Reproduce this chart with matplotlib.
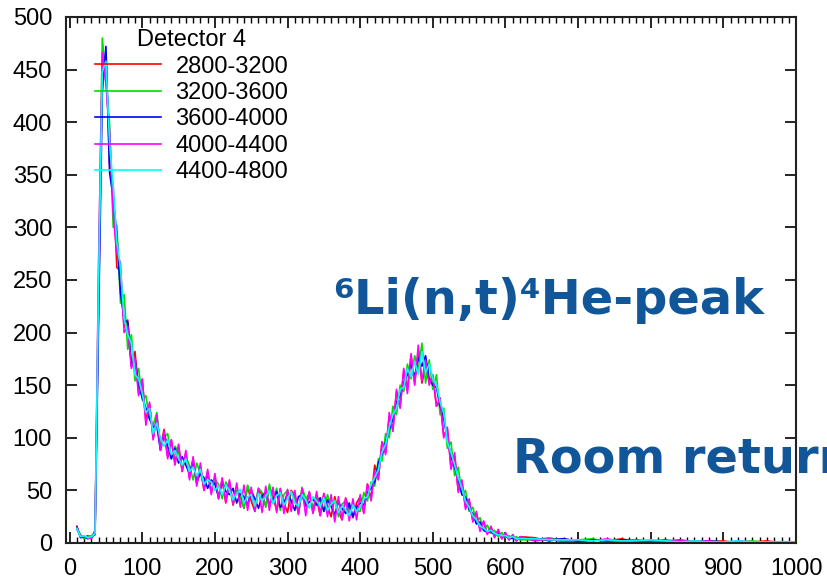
import numpy as np
import matplotlib
matplotlib.use('Agg')
from matplotlib import pyplot as plt
from matplotlib.ticker import MultipleLocator

# channel bins: every 5 up to 620, then every 20 in the flat tail
channels = list(range(10, 625, 5)) + list(range(640, 1001, 20))

labels = ['2800-3200', '3200-3600', '3600-4000', '4000-4400', '4400-4800']
colors = ['#ff0000', '#00dd00', '#0000ff', '#ff00ff', '#00ffff']

counts_2800 = [
    16, 6, 5, 7, 5, 12,
    235, 452, 465, 360, 338, 262, 258, 205, 212, 170, 182, 142,
    155, 116, 132, 100, 120, 90, 108, 82, 98, 76, 92, 68,
    86, 62, 80, 56, 72, 50, 66, 48, 62, 42, 60, 38,
    58, 36, 50, 44, 33, 54, 40, 30, 51, 46, 35, 53,
    44, 31, 51, 38, 29, 50, 45, 28, 50, 36, 48, 29,
    42, 26, 47, 35, 25, 44, 30, 22, 42, 34, 24, 38,
    44, 29, 56, 42, 74, 62, 96, 86, 120, 108, 144, 130,
    164, 146, 178, 152, 182, 152, 168, 154, 158, 130, 134, 102,
    108, 72, 82, 50, 58, 34, 40, 22, 28, 13, 20, 9,
    15, 6, 12, 4, 9, 3, 7, 2, 6,
    5, 2, 4, 1, 3, 2, 4, 1, 2, 3, 1, 2, 1, 2, 0, 1, 2, 0, 1]

counts_3200 = [
    14, 8, 4, 6, 7, 9,
    262, 480, 440, 398, 300, 302, 228, 236, 184, 198, 154, 166,
    136, 140, 118, 112, 124, 92, 100, 104, 80, 92, 86, 70,
    82, 74, 60, 76, 66, 54, 68, 50, 60, 56, 42, 58,
    52, 38, 50, 46, 33, 55, 44, 36, 52, 48, 34, 56,
    40, 52, 31, 46, 50, 38, 44, 29, 53, 42, 47, 33,
    45, 39, 30, 46, 34, 41, 25, 37, 40, 28, 35, 31,
    30, 48, 40, 58, 54, 80, 78, 104, 100, 130, 122, 150,
    144, 170, 156, 178, 164, 190, 152, 174, 146, 160, 122, 128,
    90, 96, 64, 72, 46, 50, 30, 34, 20, 24, 12, 17,
    9, 12, 6, 10, 5, 7, 4, 6, 3,
    3, 5, 2, 3, 4, 1, 2, 3, 1, 2, 3, 1, 2, 1, 1, 2, 0, 1, 1]

counts_3600 = [
    15, 5, 6, 4, 6, 8,
    218, 428, 472, 352, 328, 292, 238, 212, 210, 168, 176, 150,
    138, 128, 118, 110, 112, 88, 104, 92, 80, 90, 76, 82,
    74, 66, 78, 58, 66, 62, 52, 60, 56, 44, 58, 49,
    46, 52, 38, 47, 44, 36, 50, 42, 33, 45, 48, 37,
    42, 49, 34, 38, 47, 40, 31, 44, 46, 35, 39, 42,
    36, 43, 30, 41, 35, 27, 39, 33, 28, 38, 25, 34,
    38, 36, 48, 52, 58, 76, 84, 96, 108, 118, 134, 140,
    152, 160, 170, 158, 176, 168, 178, 156, 150, 148, 130, 118,
    100, 82, 72, 60, 46, 44, 32, 28, 18, 20, 12, 10,
    11, 8, 9, 6, 7, 4, 5, 4, 4,
    4, 3, 4, 2, 3, 2, 3, 2, 2, 1, 2, 1, 2, 1, 1, 1, 0, 1, 1]

counts_4000 = [
    13, 7, 6, 5, 4, 11,
    272, 466, 436, 392, 312, 276, 266, 200, 206, 166, 176, 140,
    156, 112, 134, 98, 122, 88, 106, 80, 98, 74, 94, 68,
    88, 60, 82, 54, 76, 50, 70, 46, 66, 42, 62, 39,
    60, 37, 57, 34, 55, 31, 53, 30, 52, 29, 54, 31,
    53, 29, 52, 28, 51, 30, 50, 27, 52, 26, 49, 28,
    49, 26, 47, 25, 46, 20, 44, 22, 43, 21, 42, 22,
    46, 28, 56, 40, 68, 60, 96, 84, 124, 106, 146, 128,
    166, 142, 180, 150, 188, 154, 174, 150, 160, 130, 138, 100,
    110, 70, 86, 48, 60, 32, 42, 20, 30, 11, 21, 8,
    16, 5, 13, 4, 10, 3, 8, 2, 6,
    2, 4, 1, 3, 2, 4, 1, 3, 2, 1, 3, 1, 2, 0, 2, 1, 1, 0, 1]

counts_4400 = [
    14, 6, 7, 5, 6, 9,
    252, 448, 458, 380, 340, 286, 262, 214, 198, 190, 160, 156,
    142, 124, 128, 104, 114, 100, 92, 98, 84, 88, 80, 74,
    80, 68, 72, 64, 70, 56, 60, 58, 50, 54, 46, 55,
    50, 41, 47, 51, 38, 44, 46, 35, 47, 40, 44, 50,
    37, 45, 48, 36, 42, 49, 38, 35, 46, 41, 33, 44,
    40, 35, 43, 31, 37, 40, 29, 35, 32, 26, 36, 30,
    34, 42, 44, 56, 62, 70, 86, 94, 110, 122, 128, 146,
    148, 166, 158, 172, 160, 182, 162, 170, 156, 150, 134, 124,
    96, 86, 74, 62, 52, 40, 34, 26, 22, 16, 14, 11,
    12, 9, 8, 7, 7, 5, 6, 4, 4,
    4, 3, 3, 3, 2, 3, 2, 2, 3, 2, 1, 2, 1, 1, 2, 1, 1, 1, 1]

series = [counts_2800, counts_3200, counts_3600, counts_4000, counts_4400]

fig = plt.figure(figsize=(8.28, 5.8), dpi=100)
ax = fig.add_axes([0.0797, 0.0638, 0.8817, 0.907])

for y, lab, c in zip(series, labels, colors):
    assert len(y) == len(channels), lab
    ax.plot(channels, y, color=c, lw=1.2, label=lab)

ax.set_xlim(-5, 1000)
ax.set_ylim(0, 500)
ax.xaxis.set_major_locator(MultipleLocator(100))
ax.xaxis.set_minor_locator(MultipleLocator(10))
ax.yaxis.set_major_locator(MultipleLocator(50))
ax.tick_params(which='both', direction='in', top=True, right=True, labelsize=17)
ax.tick_params(axis='x', pad=11)
ax.tick_params(axis='y', pad=10)
ax.tick_params(which='major', length=8, width=1.2)
ax.tick_params(which='minor', length=4, width=1)
for lbl in ax.get_xticklabels() + ax.get_yticklabels():
    lbl.set_family('Liberation Sans')
for sp in ax.spines.values():
    sp.set_linewidth(1.5)
    sp.set_color('#222222')

leg = ax.legend(title='Detector 4', loc='upper left', bbox_to_anchor=(0.04, 0.977),
                frameon=False, handlelength=2.8, handletextpad=0.6,
                labelspacing=0.19, borderpad=0, borderaxespad=0,
                prop={'family': 'Liberation Sans', 'size': 17},
                title_fontproperties={'family': 'Liberation Sans', 'size': 17})

blue = '#12569A'
fig.text(0.402, 0.459, '\u2076Li(n,t)\u2074He-peak', color=blue, fontsize=34.5,
         fontweight='bold', family='DejaVu Sans', va='baseline')
# cut off at the right edge, as in the original slide
fig.text(0.620, 0.186, 'Room return', color=blue, fontsize=34.5,
         fontweight='bold', family='DejaVu Sans', va='baseline')

fig.savefig('out.png', dpi=100)
